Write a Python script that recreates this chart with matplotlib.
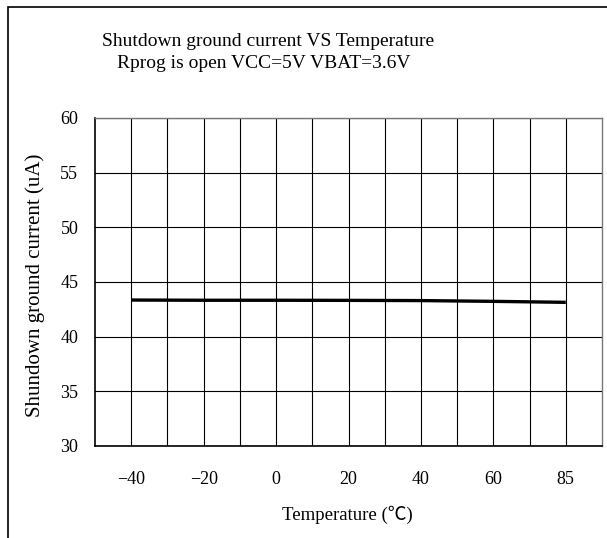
import matplotlib
matplotlib.use('Agg')
import matplotlib.pyplot as plt
from matplotlib.patches import Rectangle

plt.rcParams['font.family'] = ['Liberation Serif', 'Noto Sans CJK SC', 'DejaVu Sans']

# 数据
temps = ['-40', '-20', '0', '20', '40', '60', '85']
current = [43.35, 43.33, 43.33, 43.32, 43.30, 43.23, 43.14]
yticks = [30, 35, 40, 45, 50, 55, 60]

fig = plt.figure(figsize=(6.07, 5.38), dpi=100)

# 外框
fig.patches.append(Rectangle((8 / 607, -0.1), 1.0, 1.1 - 7 / 538,
                             transform=fig.transFigure, fill=False,
                             edgecolor='black', linewidth=1.2))

ax = fig.add_axes([95 / 607, 1 - 446 / 538, 507 / 607, 328 / 538])
x = list(range(len(temps)))
ax.plot(x, current, color='black', linewidth=2.4, solid_capstyle='butt', zorder=3)

ax.set_xlim(-0.5, len(temps) - 0.5)
ax.set_ylim(30, 60)
ax.set_xticks(x)
ax.set_xticklabels([t.replace('-', '\u2212') for t in temps])
ax.set_xticks([i + 0.5 for i in x[:-1]], minor=True)
ax.set_yticks(yticks)
ax.grid(True, which='both', color='black', linewidth=0.8)
ax.tick_params(which='both', length=0)
ax.tick_params(axis='y', labelsize=13, pad=12)
ax.tick_params(axis='x', labelsize=13, pad=18)
for side in ['top', 'right']:
    ax.spines[side].set_color('#777777')
    ax.spines[side].set_linewidth(1.0)
for side in ['left', 'bottom']:
    ax.spines[side].set_color('black')
    ax.spines[side].set_linewidth(1.2)

fig.text(268 / 607, 1 - 41 / 538, 'Shutdown ground current VS Temperature',
         ha='center', va='center', fontsize=14)
fig.text(264 / 607, 1 - 64 / 538, 'Rprog is open VCC=5V VBAT=3.6V',
         ha='center', va='center', fontsize=14)
fig.text(347 / 607, 1 - 515 / 538, 'Temperature (℃)',
         ha='center', va='center', fontsize=13.5)
fig.text(35 / 607, 1 - 285 / 538, 'Shundown ground current (uA)',
         ha='center', va='center', rotation=90, fontsize=15)

fig.savefig('out.png', dpi=100)
